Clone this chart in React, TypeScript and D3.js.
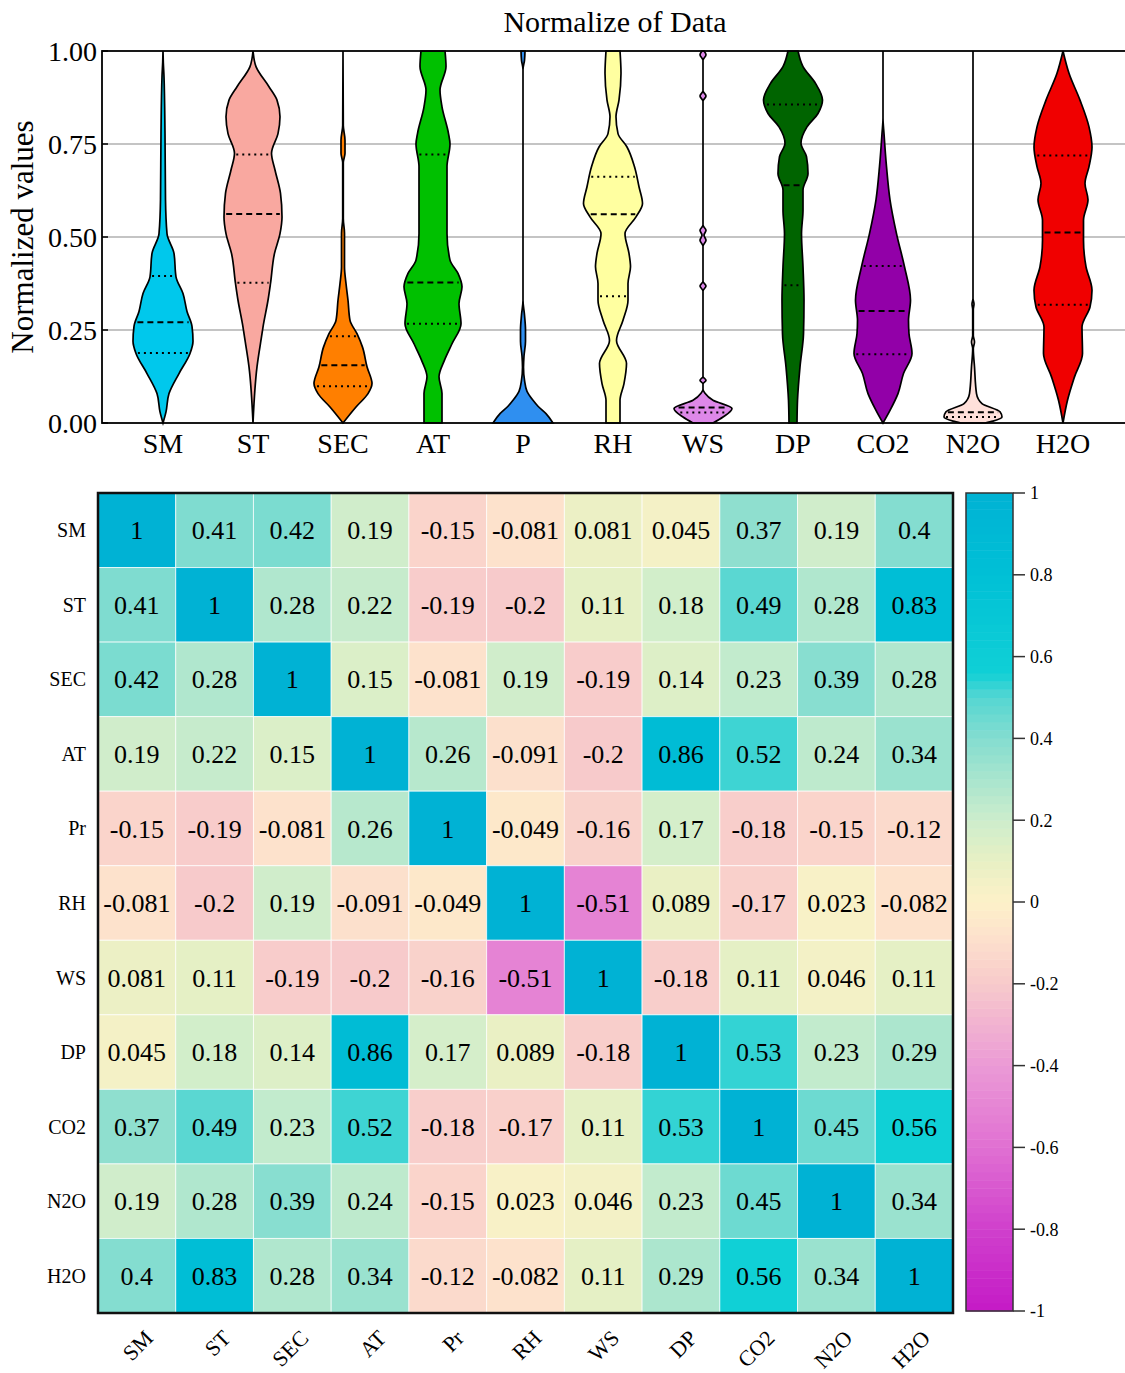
import React from "react";
import * as d3 from "d3";

// ---- violin data (value, half width) ----
const violinNames = ["SM", "ST", "SEC", "AT", "P", "RH", "WS", "DP", "CO2", "N2O", "H2O"];
const violinColors = ["#00c8ec", "#f9a8a0", "#ff7f00", "#00c000", "#2f8ff0", "#ffffa0", "#dd88e8", "#006400", "#9200a8", "#ffe0da", "#f00000"];

const smShape = [[0, 0], [0.03, 3], [0.079, 6], [0.133, 16], [0.187, 27], [0.22, 30], [0.26, 29], [0.3, 24], [0.348, 20], [0.393, 13], [0.456, 11], [0.509, 4], [0.6, 2.5], [0.778, 2], [0.931, 1], [0.97, 0.3], [1, 0]];
const stShape = [[0, 0], [0.151, 4], [0.24, 9], [0.258, 10], [0.33, 15], [0.375, 17.5], [0.456, 21.5], [0.509, 27], [0.554, 29], [0.617, 27.5], [0.68, 22], [0.725, 18.5], [0.778, 25], [0.823, 27], [0.868, 24], [0.904, 16], [0.958, 3], [1, 0]];
const secShape = [[0, 0], [0.043, 13], [0.079, 25], [0.106, 29], [0.151, 24], [0.204, 19.5], [0.24, 14], [0.276, 7], [0.33, 5], [0.375, 3], [0.42, 1.5], [0.51, 1.5], [0.55, 0.3], [0.7, 0.3], [0.725, 2], [0.76, 2], [0.8, 0.3], [1, 0]];
const atShape = [[0, 9], [0.079, 9], [0.124, 6], [0.169, 11.5], [0.213, 19], [0.267, 28], [0.321, 26], [0.366, 29], [0.402, 25], [0.438, 17], [0.509, 14], [0.6, 14], [0.689, 14], [0.75, 17], [0.778, 15.5], [0.85, 9], [0.895, 7], [0.958, 13], [1, 12]];
const pShape = [[0, 30], [0.025, 23], [0.045, 15], [0.061, 10], [0.085, 4], [0.115, 1.5], [0.15, 0.5], [0.18, 1], [0.22, 2.5], [0.25, 2.5], [0.29, 1.5], [0.33, 0], [0.95, 0], [0.975, 1.5], [1, 2]];
const rhShape = [[0, 7], [0.061, 7], [0.106, 11], [0.16, 13.5], [0.222, 3.5], [0.276, 10], [0.33, 15], [0.375, 15], [0.42, 17.5], [0.456, 16], [0.509, 12], [0.554, 23], [0.59, 29.5], [0.635, 26], [0.689, 21.5], [0.742, 14], [0.778, 5], [0.823, 3], [0.868, 6], [0.94, 8], [1, 7]];
const wsShape = [[0, 10], [0.016, 20], [0.039, 29], [0.061, 10], [0.08, 2], [0.09, 0], [0.105, 0], [0.115, 3], [0.125, 0], [0.355, 0], [0.368, 3], [0.381, 0], [0.475, 0], [0.491, 3], [0.505, 1], [0.518, 3], [0.532, 0], [0.865, 0], [0.879, 3], [0.893, 0], [0.975, 0], [0.99, 3], [1, 1]];
const dpShape = [[0, 4], [0.061, 4.5], [0.151, 7], [0.24, 10.5], [0.33, 11], [0.42, 10], [0.509, 8.5], [0.572, 10], [0.626, 10], [0.671, 15], [0.716, 13.5], [0.752, 8], [0.796, 14], [0.832, 25], [0.868, 29.5], [0.913, 22.5], [0.958, 10], [1, 5]];
const co2Shape = [[0, 0], [0.034, 7], [0.079, 15], [0.133, 20.5], [0.187, 29], [0.24, 26], [0.276, 25.5], [0.33, 27.5], [0.42, 21.5], [0.509, 13.5], [0.6, 7], [0.689, 3.5], [0.778, 1], [0.82, 0], [1, 0]];
const n2oShape = [[0, 12], [0.005, 20], [0.016, 29], [0.03, 27], [0.052, 9], [0.079, 3.5], [0.151, 1.5], [0.2, 0.3], [0.218, 1.5], [0.235, 0.3], [0.305, 0.3], [0.32, 1], [0.335, 0], [1, 0]];
const h2oShape = [[0, 0], [0.061, 4.5], [0.124, 11.5], [0.187, 19.5], [0.258, 19], [0.312, 27], [0.357, 29], [0.42, 23], [0.491, 20.5], [0.545, 20.5], [0.6, 25], [0.644, 22], [0.689, 26], [0.742, 29], [0.796, 26], [0.868, 17], [0.94, 6], [1, 0]];
const violinShapes = [smShape, stShape, secShape, atShape, pShape, rhShape, wsShape, dpShape, co2Shape, n2oShape, h2oShape];

// [Q1, median, Q3]
const violinQuartiles: (number | null)[][] = [
  [0.188, 0.271, 0.395],
  [0.377, 0.562, 0.722],
  [0.099, 0.155, 0.233],
  [0.267, 0.378, 0.722],
  [null, null, null],
  [0.341, 0.561, 0.662],
  [0.028, 0.042, null],
  [0.37, 0.639, 0.856],
  [0.185, 0.301, 0.422],
  [0.016, 0.029, null],
  [0.318, 0.512, 0.719],
];
const yTicks = [0, 0.25, 0.5, 0.75, 1];

// ---- correlation heatmap ----
const corrNames = ["SM", "ST", "SEC", "AT", "Pr", "RH", "WS", "DP", "CO2", "N2O", "H2O"];
const corrRows = [
  [1, 0.41, 0.42, 0.19, -0.15, -0.081, 0.081, 0.045, 0.37, 0.19, 0.4],
  [0.41, 1, 0.28, 0.22, -0.19, -0.2, 0.11, 0.18, 0.49, 0.28, 0.83],
  [0.42, 0.28, 1, 0.15, -0.081, 0.19, -0.19, 0.14, 0.23, 0.39, 0.28],
  [0.19, 0.22, 0.15, 1, 0.26, -0.091, -0.2, 0.86, 0.52, 0.24, 0.34],
  [-0.15, -0.19, -0.081, 0.26, 1, -0.049, -0.16, 0.17, -0.18, -0.15, -0.12],
  [-0.081, -0.2, 0.19, -0.091, -0.049, 1, -0.51, 0.089, -0.17, 0.023, -0.082],
  [0.081, 0.11, -0.19, -0.2, -0.16, -0.51, 1, -0.18, 0.11, 0.046, 0.11],
  [0.045, 0.18, 0.14, 0.86, 0.17, 0.089, -0.18, 1, 0.53, 0.23, 0.29],
  [0.37, 0.49, 0.23, 0.52, -0.18, -0.17, 0.11, 0.53, 1, 0.45, 0.56],
  [0.19, 0.28, 0.39, 0.24, -0.15, 0.023, 0.046, 0.23, 0.45, 1, 0.34],
  [0.4, 0.83, 0.28, 0.34, -0.12, -0.082, 0.11, 0.29, 0.56, 0.34, 1],
];
const colorStops = [-1, -0.8, -0.6, -0.4, -0.2, -0.08, 0, 0.1, 0.2, 0.4, 0.5, 0.56, 0.8, 1];
const colorValues = ["#c41ac6", "#d040cc", "#e070d2", "#eb9ad6", "#f7cacb", "#fde2cc", "#fdf1c8", "#e8f0c4", "#cdedcc", "#84ddd0", "#55d6d2", "#10d0d6", "#00c0d6", "#00b2d4"];
const barTicks = [1, 0.8, 0.6, 0.4, 0.2, 0, -0.2, -0.4, -0.6, -0.8, -1];

const FONT = '"Liberation Serif", "Times New Roman", Times, "DejaVu Serif", serif';

const fmt = (v: number) => String(v);

export default function App() {
  // violin scales
  const x = d3.scalePoint<string>().domain(violinNames).range([163, 1063]);
  const y = d3.scaleLinear().domain([0, 1]).range([423, 51]);
  const w = d3.scaleLinear().domain([0, 30]).range([0, 30]);

  const hwAt = (shape: number[][], v: number) => {
    const vs = shape.map(d => d[0]);
    const hs = shape.map(d => d[1]);
    return d3.scaleLinear().domain(vs).range(hs)(v);
  };

  // heatmap scales
  const hx = d3.scaleBand<string>().domain(corrNames).range([98, 953]);
  const hy = d3.scaleBand<string>().domain(corrNames).range([493, 1313]);
  const color = d3.scaleLinear<string>().domain(colorStops).range(colorValues).interpolate(d3.interpolateRgb);
  const cb = d3.scaleLinear().domain([-1, 1]).range([1311, 493]);
  const barSteps = d3.range(-1, 1, 0.02);

  return (
    <svg width={1125} height={1373} style={{ position: "absolute", left: 0, top: 0, background: "#fff", fontFamily: FONT }}>
      {/* ---------- violin plot ---------- */}
      <text x={615} y={32} textAnchor="middle" fontSize={30}>Normalize of Data</text>
      {yTicks.filter(t => t > 0 && t < 1).map(t => (
        <line key={"g" + t} x1={102} x2={1130} y1={y(t)} y2={y(t)} stroke="#b0b0b0" strokeWidth={1.5} />
      ))}
      {violinNames.map((name, i) => {
        const shape = violinShapes[i];
        const cx = x(name) as number;
        const area = d3.area<number[]>()
          .y(d => y(d[0]))
          .x0(d => cx - w(d[1]))
          .x1(d => cx + w(d[1]))
          .curve(d3.curveMonotoneY);
        const q = violinQuartiles[i];
        return (
          <g key={name}>
            <path d={area(shape) || ""} fill={violinColors[i]} stroke="#000" strokeWidth={1.7} />
            {q.map((v, k) => {
              if (v === null) return null;
              const hw = Math.max(w(hwAt(shape, v)) - 2, 0);
              return (
                <line key={k} x1={cx - hw} x2={cx + hw} y1={y(v)} y2={y(v)} stroke="#000" strokeWidth={2}
                  strokeDasharray={k === 1 ? "6,4" : "2,4"} />
              );
            })}
          </g>
        );
      })}
      <rect x={102} y={51} width={1040} height={372} fill="none" stroke="#000" strokeWidth={1.8} />
      {yTicks.map(t => (
        <g key={"t" + t}>
          <line x1={102} x2={108} y1={y(t)} y2={y(t)} stroke="#000" strokeWidth={1.5} />
          <text x={97} y={y(t)} dy="0.35em" textAnchor="end" fontSize={28}>{t.toFixed(2)}</text>
        </g>
      ))}
      {violinNames.map(name => (
        <text key={"xl" + name} x={x(name)} y={453} textAnchor="middle" fontSize={28}>{name}</text>
      ))}
      <text transform={`translate(33,237) rotate(-90)`} textAnchor="middle" fontSize={31}>Normalized values</text>

      {/* ---------- correlation heatmap ---------- */}
      {corrRows.map((row, r) =>
        row.map((v, c) => (
          <g key={r + "-" + c}>
            <rect x={hx(corrNames[c])} y={hy(corrNames[r])} width={hx.bandwidth()} height={hy.bandwidth()}
              fill={color(v)} stroke="rgba(255,255,255,0.7)" strokeWidth={1} />
            <text x={(hx(corrNames[c]) as number) + hx.bandwidth() / 2} y={(hy(corrNames[r]) as number) + hy.bandwidth() / 2}
              dy="0.35em" textAnchor="middle" fontSize={26}>{fmt(v)}</text>
          </g>
        ))
      )}
      <rect x={98} y={493} width={855} height={820} fill="none" stroke="#111" strokeWidth={2.5} />
      {corrNames.map(n => (
        <text key={"rl" + n} x={86} y={(hy(n) as number) + hy.bandwidth() / 2} dy="0.35em" textAnchor="end" fontSize={20}>{n}</text>
      ))}
      {corrNames.map(n => {
        const cx = (hx(n) as number) + hx.bandwidth() / 2 + 12;
        return (
          <text key={"cl" + n} transform={`translate(${cx},1334) rotate(-45)`} dy="0.35em" textAnchor="end" fontSize={22}>{n}</text>
        );
      })}

      {/* colour bar */}
      {barSteps.map(s => (
        <rect key={"cb" + s} x={966} y={cb(s + 0.02)} width={47} height={cb(s) - cb(s + 0.02) + 0.5} fill={color(s + 0.01)} />
      ))}
      <rect x={966} y={493} width={47} height={818} fill="none" stroke="#333" strokeWidth={1.5} />
      {barTicks.map(t => (
        <g key={"bt" + t}>
          <line x1={1013} x2={1025} y1={cb(t)} y2={cb(t)} stroke="#333" strokeWidth={1.5} />
          <text x={1030} y={cb(t)} dy="0.35em" fontSize={18}>{fmt(t)}</text>
        </g>
      ))}
    </svg>
  );
}
